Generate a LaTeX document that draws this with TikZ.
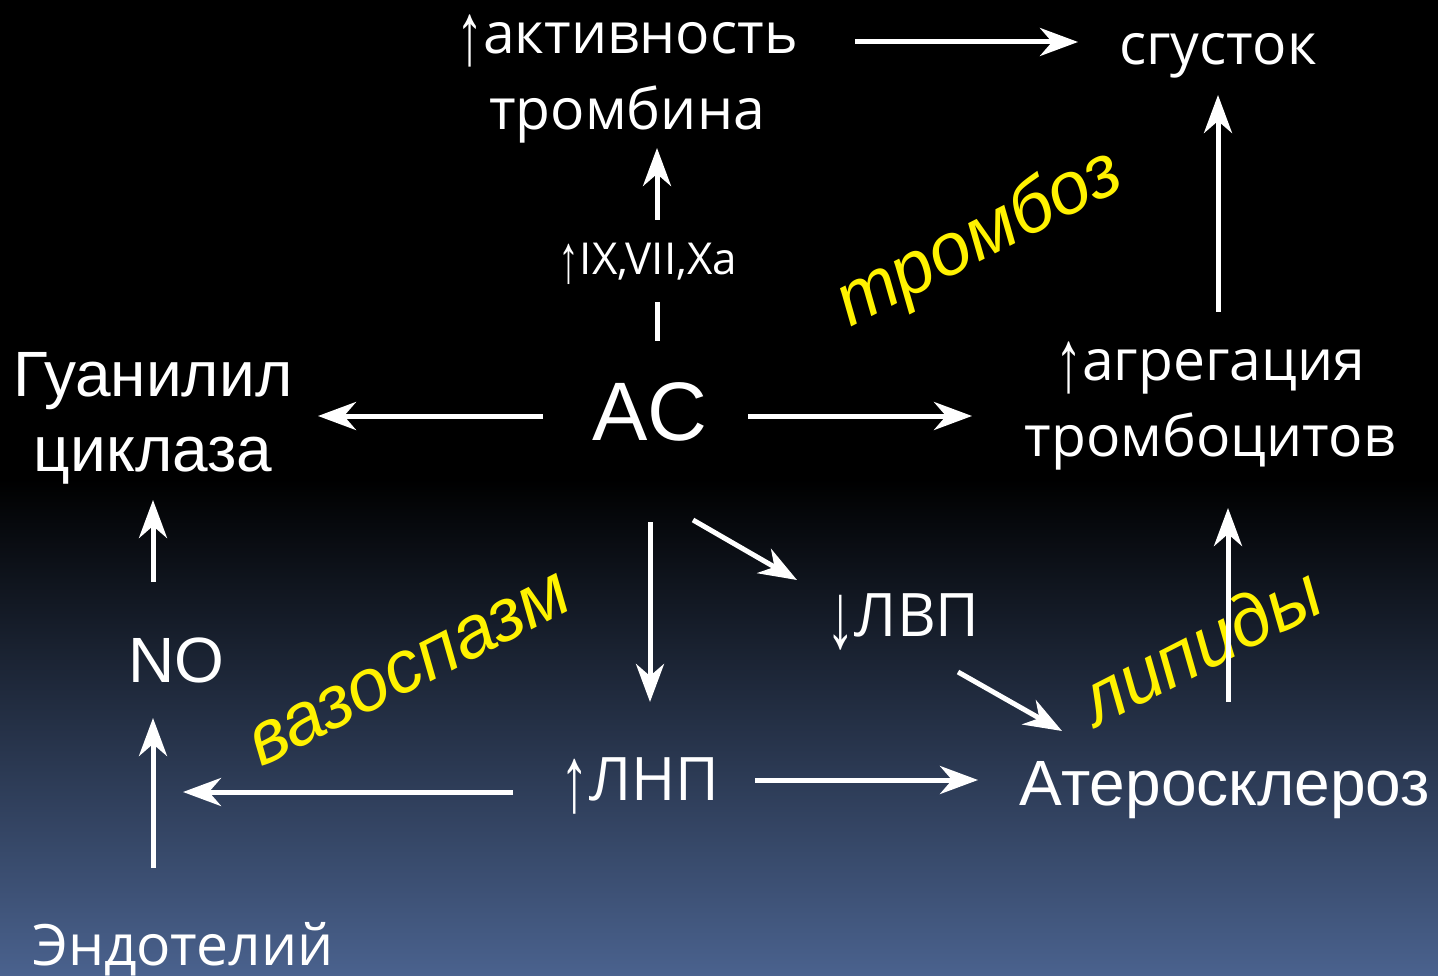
\documentclass[tikz,border=0pt]{standalone}
\usepackage{fontspec}
\setmainfont{Liberation Sans}
\newfontfamily\hum{Open Sans}
\newfontfamily\arrf{Liberation Sans}
\usetikzlibrary{arrows.meta}
\newcommand\myup{\raisebox{-0.19em}{\scalebox{0.95}[1.55]{\arrf ↑}}}
\newcommand\mydown{\raisebox{-0.19em}{\scalebox{0.95}[1.55]{\arrf ↓}}}
\tikzset{
  arr/.style={draw=white, line width=5pt, -{Stealth[length=38pt,width=28pt,inset=12pt]}},
  bar/.style={draw=white, line width=5pt},
  lab/.style={text=white, font=\fontsize{64}{75}\selectfont, align=center, inner sep=0pt},
  hlab/.style={text=white, font=\hum\fontsize{57}{76}\selectfont, align=center, inner sep=0pt},
  ylab/.style={text=yellow, font=\fontsize{74}{80}\selectfont\itshape, rotate=27, inner sep=0pt},
}
\begin{document}
\begin{tikzpicture}[x=1pt,y=-1pt]
\useasboundingbox (0,0) rectangle (1438,976);
\fill[black] (0,0) rectangle (1438,480);
\shade[top color=black, bottom color={rgb,255:red,74;green,98;blue,142}] (0,479) rectangle (1438,976);
% nodes
\node[hlab] (thr) at (627,79) {\myup активность\\тромбина};
\node[hlab] (clot) at (1218,56) {сгусток};
\node[text=white, font=\hum\fontsize{44}{50}\selectfont, inner sep=0pt] (fac) at (648,264) {\myup IX,VII,Xa};
\node[lab] (gc) at (153,418) {Гуанилил\\циклаза};
\node[text=white, font=\fontsize{83}{90}\selectfont, inner sep=0pt] (ac) at (650,412) {AC};
\node[hlab] (agg) at (1210,406) {\myup агрегация\\тромбоцитов};
\node[lab] (no) at (176,660) {NO};
\node[hlab, font=\hum\fontsize{60}{70}\selectfont] (hdl) at (903,622) {\mydown ЛВП};
\node[hlab, font=\hum\fontsize{60}{70}\selectfont] (ldl) at (640,786) {\myup ЛНП};
\node[lab] (ath) at (1225,790) {Атеросклероз};
\node[hlab, anchor=base] (endo) at (183,965) {Эндотелий};
\node[ylab] (tromboz) at (980,240) {тромбоз};
\node[ylab] (vaso) at (410,670) {вазоспазм};
\node[ylab] (lip) at (1200,645) {липиды};
% connector endpoints
\coordinate (a1) at (855,42); \coordinate (a2) at (1078,42);
\coordinate (b1) at (657,220); \coordinate (b2) at (657,148);
\coordinate (c1) at (657,302); \coordinate (c2) at (657,341);
\coordinate (d1) at (1218,312); \coordinate (d2) at (1218,95);
\coordinate (e1) at (543,416); \coordinate (e2) at (318,416);
\coordinate (f1) at (748,416); \coordinate (f2) at (972,416);
\coordinate (g1) at (153,582); \coordinate (g2) at (153,500);
\coordinate (h1) at (650,522); \coordinate (h2) at (650,702);
\coordinate (i1) at (693,520); \coordinate (i2) at (797,580);
\coordinate (j1) at (958,672); \coordinate (j2) at (1062,731);
\coordinate (k1) at (1228,702); \coordinate (k2) at (1228,508);
\coordinate (l1) at (153,868); \coordinate (l2) at (153,718);
\coordinate (m1) at (513,792); \coordinate (m2) at (183,792);
\coordinate (n1) at (755,780); \coordinate (n2) at (978,780);
\draw[arr] (a1) -- (a2);
\draw[arr] (b1) -- (b2);
\draw[bar] (c1) -- (c2);
\draw[arr] (d1) -- (d2);
\draw[arr] (e1) -- (e2);
\draw[arr] (f1) -- (f2);
\draw[arr] (g1) -- (g2);
\draw[arr] (h1) -- (h2);
\draw[arr] (i1) -- (i2);
\draw[arr] (j1) -- (j2);
\draw[arr] (k1) -- (k2);
\draw[arr] (l1) -- (l2);
\draw[arr] (m1) -- (m2);
\draw[arr] (n1) -- (n2);
\end{tikzpicture}
\end{document}
